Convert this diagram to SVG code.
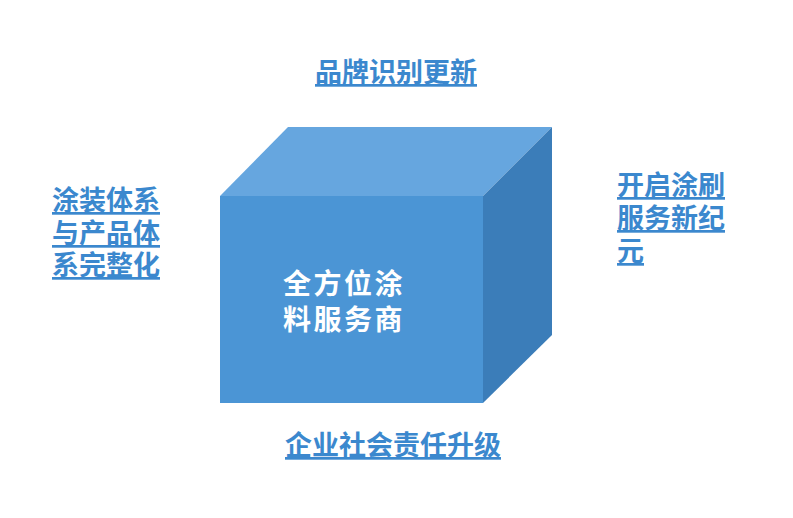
<svg xmlns="http://www.w3.org/2000/svg" width="793" height="518" viewBox="0 0 793 518">
<style>
.lbl{font-family:"Noto Sans CJK SC","Noto Sans",sans-serif;font-weight:bold;font-size:27px;fill:#3b88ce;text-decoration:underline}
.ctr{font-family:"Noto Sans CJK SC","Noto Sans",sans-serif;font-weight:bold;font-size:28px;fill:#ffffff;letter-spacing:2.5px}
</style>
<rect width="793" height="518" fill="#ffffff"/>
<g id="cube">
<polygon points="220,196 288,127 552,127 483,196" fill="#66a6df"/>
<polygon points="483,196 552,127 552,335 483,403" fill="#3b7db9"/>
<rect x="220" y="196" width="263" height="207" fill="#4b95d5"/>
<text class="ctr" text-anchor="middle"><tspan x="344" y="294">全方位涂</tspan><tspan x="344" y="330">料服务商</tspan></text>
</g>
<g id="top-label">
<text class="lbl" x="396" y="82" text-anchor="middle">品牌识别更新</text>
</g>
<g id="left-label">
<text class="lbl"><tspan x="52" y="210">涂装体系</tspan><tspan x="52" y="243">与产品体</tspan><tspan x="52" y="275">系完整化</tspan></text>
</g>
<g id="right-label">
<text class="lbl"><tspan x="617" y="195">开启涂刷</tspan><tspan x="617" y="228">服务新纪</tspan><tspan x="617" y="261">元</tspan></text>
</g>
<g id="bottom-label">
<text class="lbl" x="393" y="455" text-anchor="middle">企业社会责任升级</text>
</g>
<g id="connectors"></g>
</svg>
